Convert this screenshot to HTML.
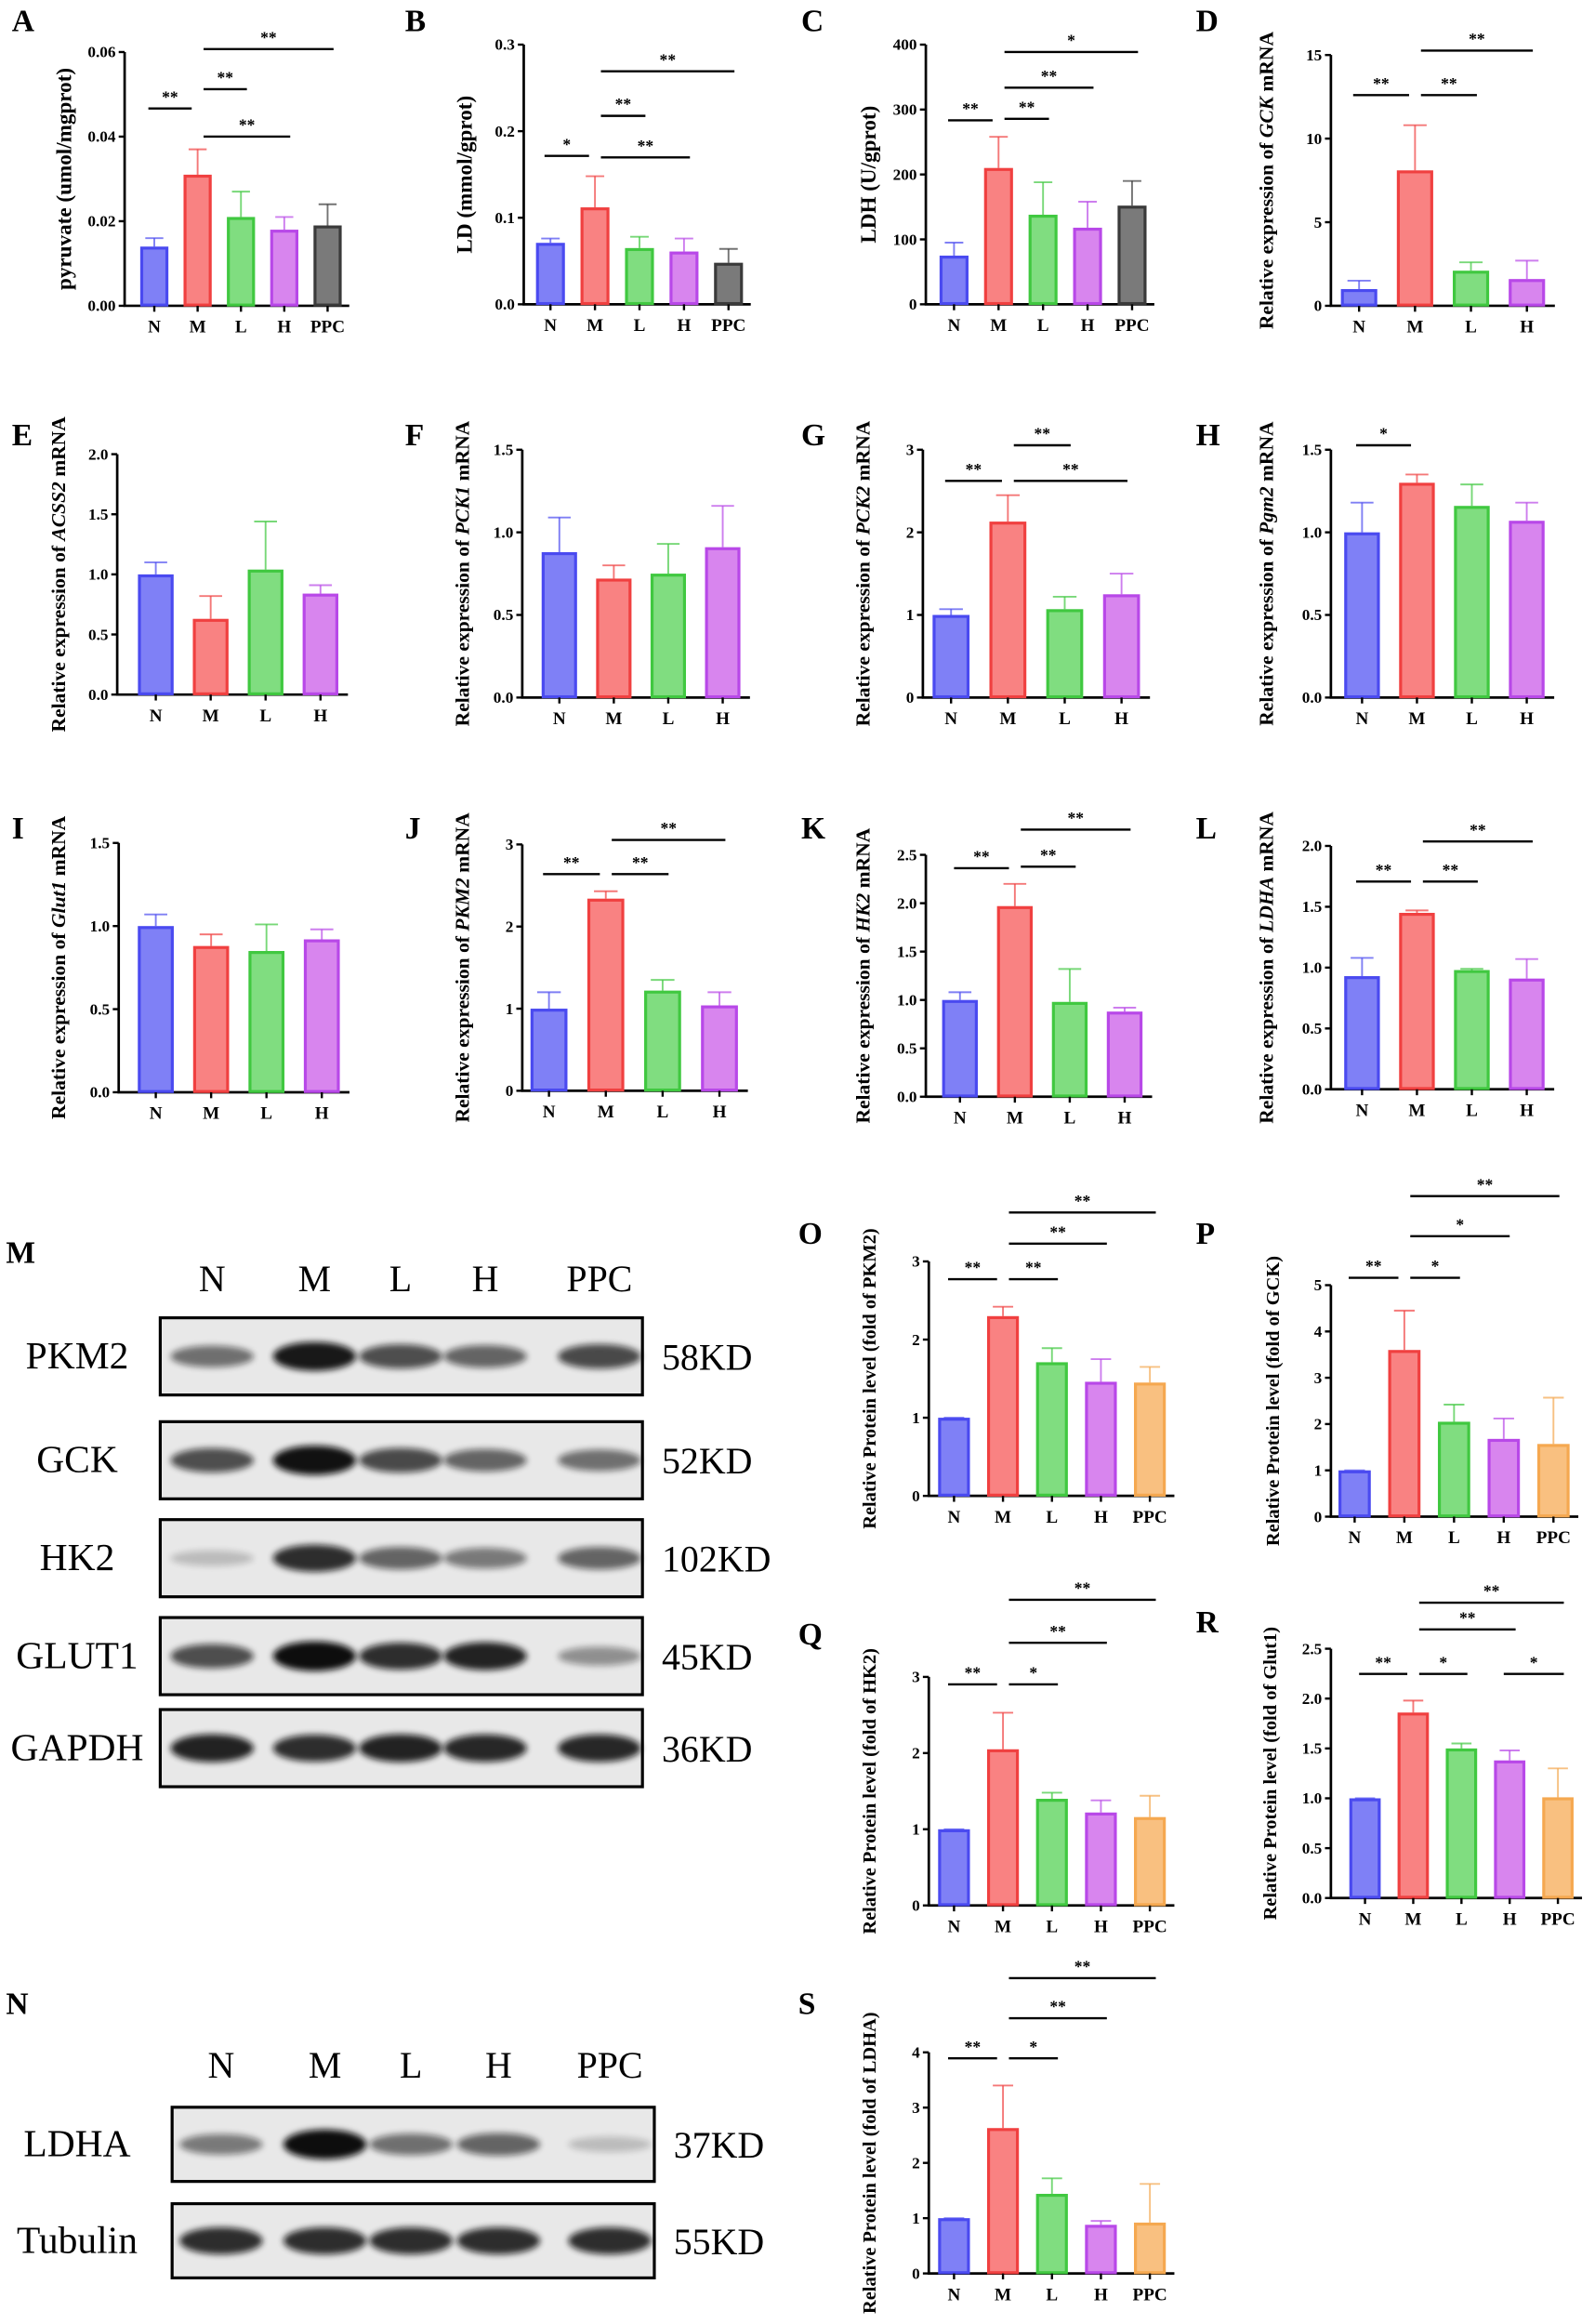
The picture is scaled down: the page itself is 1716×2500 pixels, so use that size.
<!DOCTYPE html>
<html><head><meta charset="utf-8"><style>
html,body{margin:0;padding:0;background:#fff;}
svg{display:block;font-family:"Liberation Serif",serif;}
</style></head><body>
<svg id="fig" width="1716" height="2500" viewBox="0 0 1075 1566" xmlns="http://www.w3.org/2000/svg">
<defs><filter id="blur" x="-50%" y="-50%" width="200%" height="200%"><feGaussianBlur stdDeviation="2.2"/></filter></defs>
</svg>
<script>
// ---------- data ----------
const cats5 = ["N","M","L","H","PPC"];
const cats4 = ["N","M","L","H"];
const A_vals=[0.014,0.031,0.021,0.018,0.019]; const A_errs=[0.016,0.037,0.027,0.021,0.024]; const A_ticks=[0,0.02,0.04,0.06];
const B_vals=[0.071,0.112,0.065,0.061,0.048]; const B_errs=[0.076,0.148,0.078,0.076,0.064]; const B_ticks=[0,0.1,0.2,0.3];
const C_vals=[75,210,138,118,152]; const C_errs=[95,258,188,158,190]; const C_ticks=[0,100,200,300,400];
const D_vals=[1.0,8.1,2.1,1.6]; const D_errs=[1.5,10.8,2.6,2.7]; const D_ticks=[0,5,10,15];
const E_vals=[1.0,0.63,1.04,0.84]; const E_errs=[1.1,0.82,1.44,0.91]; const E_ticks=[0,0.5,1.0,1.5,2.0];
const F_vals=[0.88,0.72,0.75,0.91]; const F_errs=[1.09,0.8,0.93,1.16]; const F_ticks=[0,0.5,1.0,1.5];
const G_vals=[1.0,2.13,1.07,1.25]; const G_errs=[1.07,2.45,1.22,1.5]; const G_ticks=[0,1,2,3];
const H_vals=[1.0,1.3,1.16,1.07]; const H_errs=[1.18,1.35,1.29,1.18]; const H_ticks=[0,0.5,1.0,1.5];
const I_vals=[1.0,0.88,0.85,0.92]; const I_errs=[1.07,0.95,1.01,0.98]; const I_ticks=[0,0.5,1.0,1.5];
const J_vals=[1.0,2.34,1.22,1.04]; const J_errs=[1.2,2.43,1.35,1.2]; const J_ticks=[0,1,2,3];
const K_vals=[1.0,1.97,0.98,0.88]; const K_errs=[1.08,2.2,1.32,0.92]; const K_ticks=[0,0.5,1.0,1.5,2.0,2.5];
const L_vals=[0.93,1.45,0.98,0.91]; const L_errs=[1.08,1.47,0.99,1.07]; const L_ticks=[0,0.5,1.0,1.5,2.0];
const O_vals=[1.0,2.3,1.71,1.46,1.45]; const O_errs=[1.0,2.42,1.89,1.75,1.65]; const O_ticks=[0,1,2,3];
const P_vals=[1.0,3.6,2.05,1.68,1.57]; const P_errs=[1.0,4.45,2.42,2.12,2.57]; const P_ticks=[0,1,2,3,4,5];
const Q_vals=[1.0,2.05,1.4,1.22,1.16]; const Q_errs=[1.0,2.53,1.48,1.38,1.44]; const Q_ticks=[0,1,2,3];
const R_vals=[1.0,1.86,1.5,1.38,1.01]; const R_errs=[1.0,1.98,1.55,1.48,1.3]; const R_ticks=[0,0.5,1.0,1.5,2.0,2.5];
const S_vals=[1.0,2.63,1.44,0.88,0.92]; const S_errs=[1.0,3.4,1.72,0.95,1.62]; const S_ticks=[0,1,2,3,4];
// significance: [groupA, groupB, label]
const A_sig=[[0,1,"**"],[1,2,"**"],[1,3,"**"],[1,4,"**"]];
const B_sig=[[0,1,"*"],[1,2,"**"],[1,3,"**"],[1,4,"**"]];
const C_sig=[[0,1,"**"],[1,2,"**"],[1,3,"**"],[1,4,"*"]];
const D_sig=[[0,1,"**"],[1,2,"**"],[1,3,"**"]];
const G_sig=[[0,1,"**"],[1,2,"**"],[1,3,"**"]];
const H_sig=[[0,1,"*"]];
const J_sig=[[0,1,"**"],[1,2,"**"],[1,3,"**"]];
const K_sig=[[0,1,"**"],[1,2,"**"],[1,3,"**"]];
const L_sig=[[0,1,"**"],[1,2,"**"],[1,3,"**"]];
const O_sig=[[0,1,"**"],[1,2,"**"],[1,3,"**"],[1,4,"**"]];
const P_sig=[[0,1,"**"],[1,2,"*"],[1,3,"*"],[1,4,"**"]];
const Q_sig=[[0,1,"**"],[1,2,"*"],[1,3,"**"],[1,4,"**"]];
const R_sig=[[0,1,"**"],[1,2,"*"],[1,3,"**"],[1,4,"**"],[3,4,"*"]];
const S_sig=[[0,1,"**"],[1,2,"*"],[1,3,"**"],[1,4,"**"]];

// ---------- layout (positions/styles) ----------
const FILL=["#7f80f6","#f98282","#80dd80","#d885ee","#7a7a7a"], EDGE=["#4a4af0","#f04040","#40c840","#b848e8","#3a3a3a"];
const FILL2=FILL.slice(0,4).concat(["#f9c080"]), EDGE2=EDGE.slice(0,4).concat(["#f5a850"]);
const P_ = [
 {id:"A",v:A_vals,e:A_errs,t:A_ticks,dec:2,c:cats5,ax:84,base:206,top:35,x0:104,dx:29.2,tx:48,fs:14.5,title:"pyruvate (umol/mgprot)",sig:A_sig,sy:[73,60,92,33],f:FILL,ed:EDGE},
 {id:"B",v:B_vals,e:B_errs,t:B_ticks,dec:1,c:cats5,ax:353,base:205,top:30,x0:371,dx:30,tx:318,fs:14.5,title:"LD (mmol/gprot)",sig:B_sig,sy:[105,78,106,48],f:FILL,ed:EDGE},
 {id:"C",v:C_vals,e:C_errs,t:C_ticks,dec:0,c:cats5,ax:624,base:205,top:30,x0:643,dx:30,tx:590,fs:14.5,title:"LDH (U/gprot)",sig:C_sig,sy:[81,80,59,35],f:FILL,ed:EDGE},
 {id:"D",v:D_vals,e:D_errs,t:D_ticks,dec:0,c:cats4,ax:897,base:206,top:37,x0:916,dx:37.7,tx:858,fs:13.5,title:["Relative expression of ","GCK"," mRNA"],sig:D_sig,sy:[64,64,34],f:FILL,ed:EDGE},
 {id:"E",v:E_vals,e:E_errs,t:E_ticks,dec:1,c:cats4,ax:79,base:468,top:306,x0:105,dx:37,tx:44,fs:13.5,title:["Relative expression of ","ACSS2"," mRNA"],sig:[],sy:[],f:FILL,ed:EDGE},
 {id:"F",v:F_vals,e:F_errs,t:F_ticks,dec:1,c:cats4,ax:352,base:470,top:303,x0:377,dx:36.7,tx:316,fs:13.5,title:["Relative expression of ","PCK1"," mRNA"],sig:[],sy:[],f:FILL,ed:EDGE},
 {id:"G",v:G_vals,e:G_errs,t:G_ticks,dec:0,c:cats4,ax:622,base:470,top:303,x0:641,dx:38.3,tx:586,fs:13.5,title:["Relative expression of ","PCK2"," mRNA"],sig:G_sig,sy:[324,300,324],f:FILL,ed:EDGE},
 {id:"H",v:H_vals,e:H_errs,t:H_ticks,dec:1,c:cats4,ax:897,base:470,top:303,x0:918,dx:37,tx:858,fs:13.5,title:["Relative expression of ","Pgm2"," mRNA"],sig:H_sig,sy:[300],f:FILL,ed:EDGE},
 {id:"I",v:I_vals,e:I_errs,t:I_ticks,dec:1,c:cats4,ax:80,base:736,top:568,x0:105,dx:37.3,tx:44,fs:13.5,title:["Relative expression of ","Glut1"," mRNA"],sig:[],sy:[],f:FILL,ed:EDGE},
 {id:"J",v:J_vals,e:J_errs,t:J_ticks,dec:0,c:cats4,ax:352,base:735,top:569,x0:370,dx:38.3,tx:316,fs:13.5,title:["Relative expression of ","PKM2"," mRNA"],sig:J_sig,sy:[589,589,566],f:FILL,ed:EDGE},
 {id:"K",v:K_vals,e:K_errs,t:K_ticks,dec:1,c:cats4,ax:624,base:739,top:576,x0:647,dx:37,tx:586,fs:13.5,title:["Relative expression of ","HK2"," mRNA"],sig:K_sig,sy:[585,584,559],f:FILL,ed:EDGE},
 {id:"L",v:L_vals,e:L_errs,t:L_ticks,dec:1,c:cats4,ax:897,base:734,top:570,x0:918,dx:37,tx:858,fs:13.5,title:["Relative expression of ","LDHA"," mRNA"],sig:L_sig,sy:[594,594,567],f:FILL,ed:EDGE},
 {id:"O",v:O_vals,e:O_errs,t:O_ticks,dec:0,c:cats5,ax:626,base:1008,top:850,x0:643,dx:33,tx:590,fs:12.8,title:"Relative Protein level (fold of PKM2)",sig:O_sig,sy:[862,862,838,817],f:FILL2,ed:EDGE2},
 {id:"P",v:P_vals,e:P_errs,t:P_ticks,dec:0,c:cats5,ax:897,base:1022,top:866,x0:913,dx:33.5,tx:862,fs:12.8,title:"Relative Protein level (fold of GCK)",sig:P_sig,sy:[861,861,833,806],f:FILL2,ed:EDGE2},
 {id:"Q",v:Q_vals,e:Q_errs,t:Q_ticks,dec:0,c:cats5,ax:626,base:1284,top:1130,x0:643,dx:33,tx:590,fs:12.8,title:"Relative Protein level (fold of HK2)",sig:Q_sig,sy:[1135,1135,1107,1078],f:FILL2,ed:EDGE2},
 {id:"R",v:R_vals,e:R_errs,t:R_ticks,dec:1,c:cats5,ax:897,base:1279,top:1111,x0:920,dx:32.5,tx:860,fs:12.8,title:"Relative Protein level (fold of Glut1)",sig:R_sig,sy:[1128,1128,1098,1080,1128],f:FILL2,ed:EDGE2},
 {id:"S",v:S_vals,e:S_errs,t:S_ticks,dec:0,c:cats5,ax:626,base:1532,top:1383,x0:643,dx:33,tx:590,fs:12.8,title:"Relative Protein level (fold of LDHA)",sig:S_sig,sy:[1387,1387,1360,1333],f:FILL2,ed:EDGE2}
];
const svg=document.getElementById('fig'), NS="http://www.w3.org/2000/svg";
function mk(tag,attrs,parent,text){const e=document.createElementNS(NS,tag);for(const k in attrs)e.setAttribute(k,attrs[k]);if(text!==undefined)e.textContent=text;(parent||svg).appendChild(e);return e;}

P_.forEach(p=>{
  const g=mk('g',{});
  
  
  const ymax=p.t[p.t.length-1];
  const y=v=>p.base-(v/ymax)*(p.base-p.top);
  const x=i=>p.x0+i*p.dx;
  const bw=p.dx*0.65;
  const right=x(p.c.length-1)+p.dx*0.5;
  const ya=mk('line',{x1:p.ax,y1:p.base,x2:p.ax,y2:p.top,stroke:"#000","stroke-width":1.7},g);
   
  const xa=mk('line',{x1:p.ax-0.8,y1:p.base,x2:right,y2:p.base,stroke:"#000","stroke-width":1.7},g);
   
  p.t.forEach(t=>{
    mk('line',{x1:p.ax-4,y1:y(t),x2:p.ax,y2:y(t),stroke:"#000","stroke-width":1.5},g);
    const tl=mk('text',{x:p.ax-6,y:y(t)+3.6,"text-anchor":"end","font-size":10.8,"font-weight":"bold"},g,t.toFixed(p.dec));
     
  });
  p.v.forEach((v,i)=>{
    const cx=x(i);
    const el=mk('line',{x1:cx,y1:y(v),x2:cx,y2:y(p.e[i]),stroke:p.ed[i],"stroke-width":1.2,opacity:0.7},g);
     
    mk('line',{x1:cx-bw*0.32,y1:y(p.e[i]),x2:cx+bw*0.32,y2:y(p.e[i]),stroke:p.ed[i],"stroke-width":1.2,opacity:0.7},g);
    const b=mk('rect',{x:cx-bw/2+1,y:y(v)+1,width:bw-2,height:Math.max(0,p.base-y(v)-1.5),fill:p.f[i],stroke:p.ed[i],"stroke-width":2},g);
     
    mk('line',{x1:cx,y1:p.base,x2:cx,y2:p.base+4,stroke:"#000","stroke-width":1.5},g);
    const cl=mk('text',{x:cx,y:p.base+18,"text-anchor":"middle","font-size":12,"font-weight":"bold"},g,p.c[i]);
     
  });
  p.sig.forEach((s,k)=>{
    const sy=p.sy[k];
    const x1=x(s[0])+(s[0]===0||s[0]===3&&s[1]===4?-4:4), x2=x(s[1])+(s[1]===1?-4:4);
    const sl=mk('line',{x1:x1,y1:sy,x2:x2,y2:sy,stroke:"#000","stroke-width":1.5},g);
     
    const st=mk('text',{x:(x1+x2)/2,y:sy-4,"text-anchor":"middle","font-size":11,"font-weight":"bold"},g,s[2]);
     
  });
  const cy=(p.base+p.top)/2;
  const tt=mk('text',{x:p.tx,y:cy,"text-anchor":"middle","font-size":p.fs,"font-weight":"bold",transform:`rotate(-90 ${p.tx} ${cy})`},g);
   
  if(Array.isArray(p.title)){p.title.forEach((s,i)=>{mk('tspan',i===1?{"font-style":"italic"}:{},tt,s);});}
  else tt.textContent=p.title;
});

const letters=[["A",8,21],["B",273,21],["C",540,21],["D",806,21],["E",8,300],["F",273,300],["G",540,300],["H",806,300],["I",8,565],["J",273,565],["K",540,565],["L",806,565],["M",4,851],["O",538,838],["P",806,838],["Q",538,1108],["R",806,1100],["N",4,1357],["S",538,1357]];
letters.forEach(l=>{const t=mk('text',{x:l[1],y:l[2],"font-size":21,"font-weight":"bold"},svg,l[0]);
  });

const blotLanes=["N","M","L","H","PPC"];
const M_rows=[["PKM2","58KD",888,940,[0.55,0.95,0.7,0.6,0.72]],["GCK","52KD",958,1010,[0.7,0.98,0.72,0.6,0.55]],["HK2","102KD",1024,1076,[0.2,0.85,0.6,0.5,0.6]],["GLUT1","45KD",1090,1142,[0.7,1.0,0.85,0.9,0.4]],["GAPDH","36KD",1152,1204,[0.9,0.85,0.9,0.88,0.88]]];
const N_rows=[["LDHA","37KD",1420,1470,[0.5,1.0,0.55,0.6,0.2]],["Tubulin","55KD",1485,1535,[0.85,0.85,0.85,0.85,0.85]]];
function blot(rows,lx,box,lanesX,labY,name){
  const g=mk('g',{});  
  blotLanes.forEach((n,i)=>{const t=mk('text',{x:lanesX[i],y:labY,"text-anchor":"middle","font-size":25},g,n);
     });
  rows.forEach(r=>{
    const [nm,kd,y1,y2,ints]=r;
    const bx=mk('rect',{x:box[0],y:y1,width:box[1]-box[0],height:y2-y1,fill:"#e8e8e8",stroke:"#000","stroke-width":2},g);
     
    const cy=(y1+y2)/2;
    ints.forEach((v,i)=>{const e=mk('ellipse',{cx:lanesX[i],cy:cy,rx:28,ry:4+v*6,fill:"#111",opacity:v,filter:"url(#blur)"},g);
       });
    const t=mk('text',{x:lx,y:cy+8,"text-anchor":"middle","font-size":26},g,nm);
     
    const k=mk('text',{x:box[1]+13,y:cy+9,"font-size":25},g,kd);
     
  });
}
blot(M_rows,52,[108,433],[143,212,270,327,404],870,"western-blot-m");
blot(N_rows,52,[116,441],[149,219,277,336,411],1400,"western-blot-n");
</script>
</body></html>
